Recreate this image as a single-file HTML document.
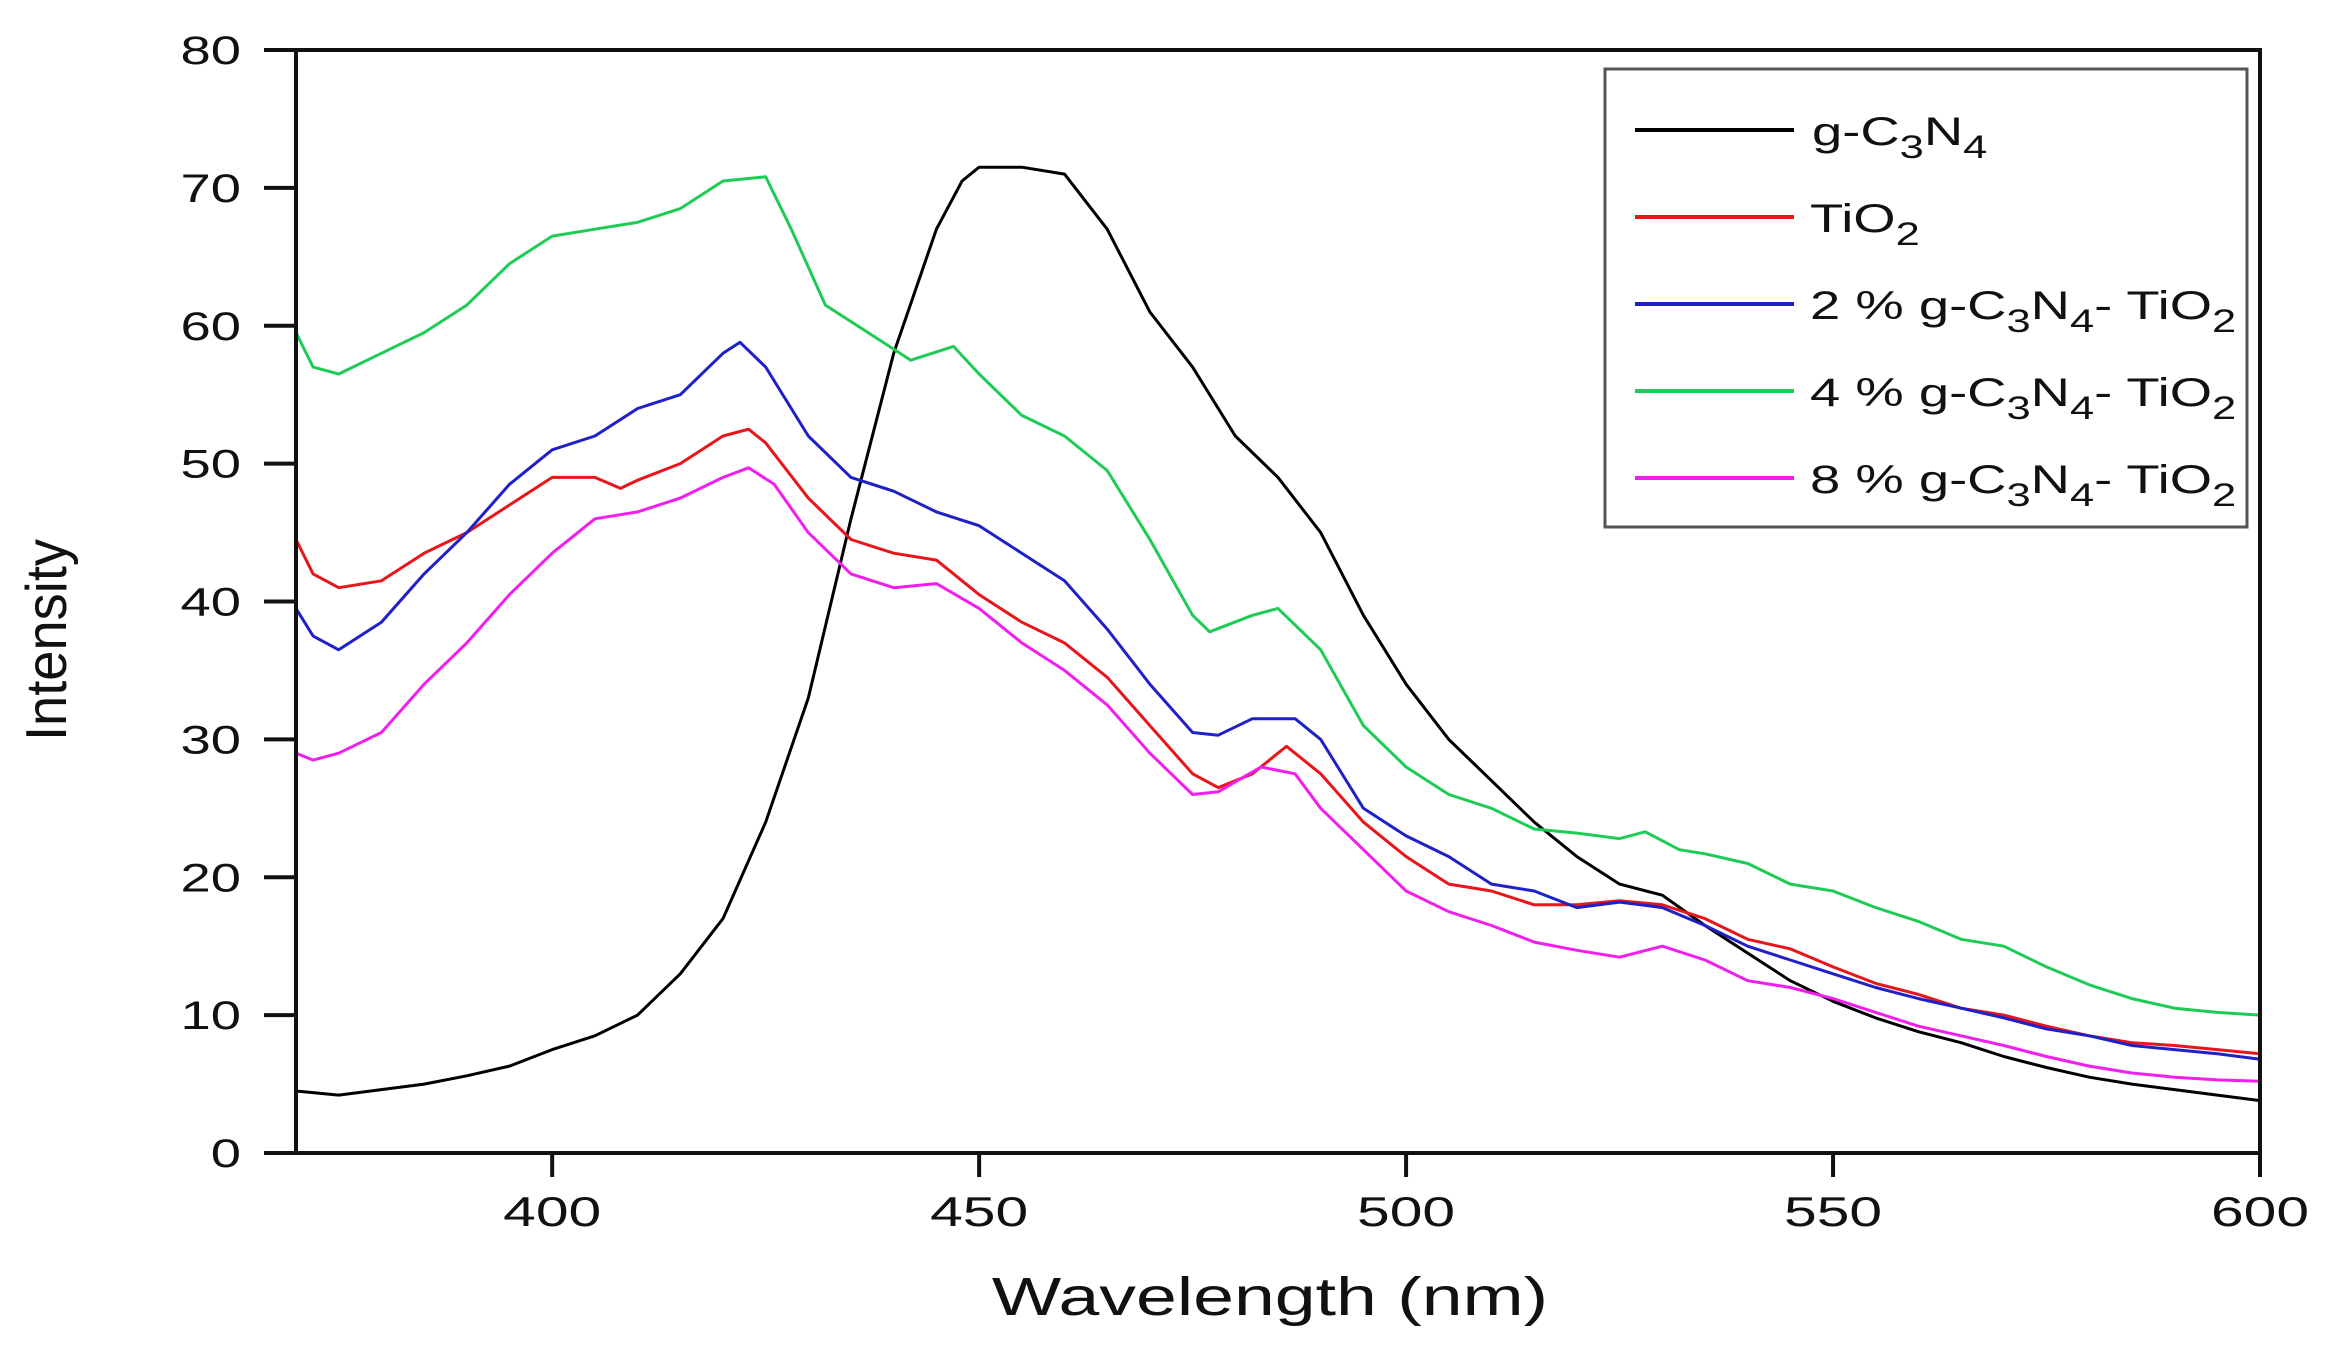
<!DOCTYPE html>
<html><head><meta charset="utf-8"><style>
html,body{margin:0;padding:0;background:#fff;}
svg{display:block;font-family:"Liberation Sans",Arial,sans-serif;}
</style></head><body>
<svg id="chart" width="2326" height="1352" viewBox="0 0 2326 1352" xmlns="http://www.w3.org/2000/svg">
<g id="series"></g>
<g id="axes"></g>
<text transform="translate(1270,1315) scale(1.36,1)" font-size="54" text-anchor="middle" fill="#111">Wavelength (nm)</text>
<text transform="translate(66,640) rotate(-90) scale(1.18,1.25)" font-size="46" text-anchor="middle" fill="#111">Intensity</text>
<g>
<rect x="1605" y="69" width="642" height="458" fill="#fff" stroke="#555" stroke-width="3"/>
<g font-size="40" fill="#111">
<line x1="1635" y1="130" x2="1794" y2="130" stroke="#000" stroke-width="4"/>
<text transform="translate(1812,145) scale(1.36,1)">g-C<tspan font-size="32" dy="13">3</tspan><tspan dy="-13">N</tspan><tspan font-size="32" dy="13">4</tspan></text>
<line x1="1635" y1="217" x2="1794" y2="217" stroke="#e8151a" stroke-width="4"/>
<text transform="translate(1810,232) scale(1.36,1)">TiO<tspan font-size="32" dy="13">2</tspan></text>
<line x1="1635" y1="304" x2="1794" y2="304" stroke="#2020c8" stroke-width="4"/>
<text transform="translate(1810,319) scale(1.36,1)">2 % g-C<tspan font-size="32" dy="13">3</tspan><tspan dy="-13">N</tspan><tspan font-size="32" dy="13">4</tspan><tspan dy="-13">- TiO</tspan><tspan font-size="32" dy="13">2</tspan></text>
<line x1="1635" y1="391" x2="1794" y2="391" stroke="#1ecc55" stroke-width="4"/>
<text transform="translate(1810,406) scale(1.36,1)">4 % g-C<tspan font-size="32" dy="13">3</tspan><tspan dy="-13">N</tspan><tspan font-size="32" dy="13">4</tspan><tspan dy="-13">- TiO</tspan><tspan font-size="32" dy="13">2</tspan></text>
<line x1="1635" y1="478" x2="1794" y2="478" stroke="#f21ef0" stroke-width="4"/>
<text transform="translate(1810,493) scale(1.36,1)">8 % g-C<tspan font-size="32" dy="13">3</tspan><tspan dy="-13">N</tspan><tspan font-size="32" dy="13">4</tspan><tspan dy="-13">- TiO</tspan><tspan font-size="32" dy="13">2</tspan></text>
</g>
</g>
</svg>
<script>
const xTicks = [400, 450, 500, 550, 600];
const yTicks = [0, 10, 20, 30, 40, 50, 60, 70, 80];
const gc3n4X = [370,375,380,385,390,395,400,405,410,415,420,425,430,435,440,445,448,450,455,460,465,470,475,480,485,490,495,500,505,510,515,520,525,530,535,540,545,550,555,560,565,570,575,580,585,590,595,600];
const gc3n4Y = [4.5,4.2,4.6,5,5.6,6.3,7.5,8.5,10,13,17,24,33,46,58,67,70.5,71.5,71.5,71,67,61,57,52,49,45,39,34,30,27,24,21.5,19.5,18.7,16.5,14.5,12.5,11,9.8,8.8,8,7,6.2,5.5,5,4.6,4.2,3.8];
const tio2X = [370,372,375,380,385,390,395,400,405,408,410,415,420,423,425,430,435,440,445,450,455,460,465,470,475,478,482,486,490,495,500,505,510,515,520,525,530,535,540,545,550,555,560,565,570,575,580,585,590,595,600];
const tio2Y = [44.5,42,41,41.5,43.5,45,47,49,49,48.2,48.8,50,52,52.5,51.5,47.5,44.5,43.5,43,40.5,38.5,37,34.5,31,27.5,26.5,27.5,29.5,27.5,24,21.5,19.5,19,18,18,18.3,18,17,15.5,14.8,13.5,12.3,11.5,10.5,10,9.2,8.5,8,7.8,7.5,7.2];
const p2X = [370,372,375,380,385,390,395,400,405,410,415,420,422,425,430,435,440,445,450,455,460,465,470,475,478,482,487,490,495,500,505,510,515,520,525,530,535,540,545,550,555,560,565,570,575,580,585,590,595,600];
const p2Y = [39.5,37.5,36.5,38.5,42,45,48.5,51,52,54,55,58,58.8,57,52,49,48,46.5,45.5,43.5,41.5,38,34,30.5,30.3,31.5,31.5,30,25,23,21.5,19.5,19,17.8,18.2,17.8,16.5,15,14,13,12,11.2,10.5,9.8,9,8.5,7.8,7.5,7.2,6.8];
const p4X = [370,372,375,380,385,390,395,400,405,410,415,420,425,428,432,437,442,447,450,455,460,465,470,475,477,482,485,490,495,500,505,510,515,520,525,528,532,535,540,545,550,555,560,565,570,575,580,585,590,595,600];
const p4Y = [59.5,57,56.5,58,59.5,61.5,64.5,66.5,67,67.5,68.5,70.5,70.8,67,61.5,59.5,57.5,58.5,56.5,53.5,52,49.5,44.5,39,37.8,39,39.5,36.5,31,28,26,25,23.5,23.2,22.8,23.3,22,21.7,21,19.5,19,17.8,16.8,15.5,15,13.5,12.2,11.2,10.5,10.2,10];
const p8X = [370,372,375,380,385,390,395,400,405,410,415,420,423,426,430,435,440,445,450,455,460,465,470,475,478,483,487,490,495,500,505,510,515,520,525,530,535,540,545,550,555,560,565,570,575,580,585,590,595,600];
const p8Y = [29,28.5,29,30.5,34,37,40.5,43.5,46,46.5,47.5,49,49.7,48.5,45,42,41,41.3,39.5,37,35,32.5,29,26,26.2,28,27.5,25,22,19,17.5,16.5,15.3,14.7,14.2,15,14,12.5,12,11.2,10.2,9.2,8.5,7.8,7,6.3,5.8,5.5,5.3,5.2];

const L=296, R=2260, T=50, B=1153, XMIN=370, XMAX=600, YMIN=0, YMAX=80;
function sx(v){return L+(v-XMIN)/(XMAX-XMIN)*(R-L);}
function sy(v){return B-(v-YMIN)/(YMAX-YMIN)*(B-T);}
const NS="http://www.w3.org/2000/svg";
const series=document.getElementById('series');
function drawLine(xs,ys,color,name){
  const p=document.createElementNS(NS,'polyline');
  
  
  p.setAttribute('points', xs.map((x,i)=>sx(x).toFixed(1)+','+sy(ys[i]).toFixed(1)).join(' '));
  p.setAttribute('fill','none');
  p.setAttribute('stroke',color);
  p.setAttribute('stroke-width','3');
  p.setAttribute('stroke-linejoin','round');
  series.appendChild(p);
}
drawLine(gc3n4X,gc3n4Y,'#000','line-gc3n4');
drawLine(tio2X,tio2Y,'#e8151a','line-tio2');
drawLine(p2X,p2Y,'#2020c8','line-2pct');
drawLine(p4X,p4Y,'#1ecc55','line-4pct');
drawLine(p8X,p8Y,'#f21ef0','line-8pct');

const axes=document.getElementById('axes');
function el(tag,attrs){const e=document.createElementNS(NS,tag);for(const k in attrs)e.setAttribute(k,attrs[k]);axes.appendChild(e);return e;}
const frame=el('rect',{x:L,y:T,width:R-L,height:B-T,fill:'none',stroke:'#111','stroke-width':4});


yTicks.forEach(v=>{
  const t=el('line',{x1:L-32,y1:sy(v),x2:L,y2:sy(v),stroke:'#111','stroke-width':4});
  
  
  const lb=el('text',{transform:'translate(241,'+(sy(v)+14)+') scale(1.36,1)','font-size':40,'text-anchor':'end',fill:'#111'});
  
  
  lb.textContent=v;
});
xTicks.forEach(v=>{
  const t=el('line',{x1:sx(v),y1:B,x2:sx(v),y2:B+24,stroke:'#111','stroke-width':4});
  
  
  const lb=el('text',{transform:'translate('+sx(v)+',1226) scale(1.4,1)','font-size':42,'text-anchor':'middle',fill:'#111'});
  
  
  lb.textContent=v;
});
</script>
</body></html>
